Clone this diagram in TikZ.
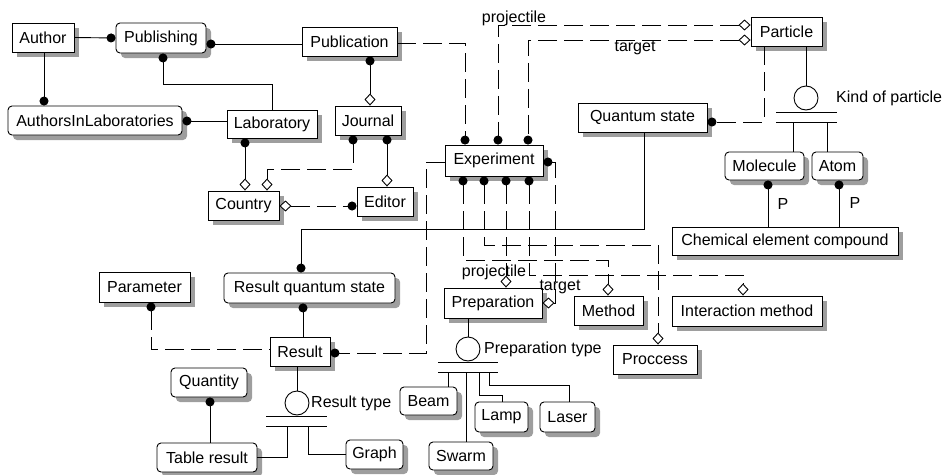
\documentclass[tikz,border=0pt]{standalone}
\usepackage{fontspec}
\setmainfont{Liberation Sans}
\usetikzlibrary{arrows.meta,shadows}
\tikzset{
  fdot/.tip={Circle[length=9pt]},
  odia/.tip={Diamond[fill=white,length=12pt,width=11pt]},
  ent/.style={draw, fill=white, line width=0.9pt, inner sep=0pt,
    font=\fontsize{16}{18}\selectfont,
    general shadow={fill=black!38, shadow xshift=5pt, shadow yshift=-5pt}},
  dep/.style={ent, rounded corners=4pt},
  lbl/.style={font=\fontsize{16}{18}\selectfont, inner sep=0pt},
  ln/.style={line width=0.9pt},
  dsh/.style={line width=0.9pt, dash pattern=on 19pt off 7pt},
  subc/.style={circle, draw, line width=0.9pt, minimum size=24pt, inner sep=0pt},
}
\begin{document}
\begin{tikzpicture}[x=1pt,y=-1pt]
\useasboundingbox (0,0) rectangle (947,474);
% entities
\node[ent, minimum width=62, minimum height=29] (Author) at (43,37.5) {Author};
\node[dep, minimum width=90, minimum height=30] (Publishing) at (161,38) {Publishing};
\node[ent, minimum width=95, minimum height=29] (Publication) at (349.5,41.5) {Publication};
\node[dep, minimum width=174, minimum height=29] (AIL) at (95,120.5) {AuthorsInLaboratories};
\node[ent, minimum width=90, minimum height=28] (Lab) at (272,124) {Laboratory};
\node[ent, minimum width=66, minimum height=29] (Journal) at (368,120.5) {Journal};
\node[ent, minimum width=98, minimum height=31] (Exp) at (494,160.5) {Experiment};
\node[ent, minimum width=129, minimum height=29] (QS) at (642.5,117.5) {Quantum state};
\node[ent, minimum width=71, minimum height=29] (Particle) at (786.5,31.5) {Particle};
\node[dep, minimum width=79, minimum height=28] (Molecule) at (764.5,166) {Molecule};
\node[dep, minimum width=51, minimum height=28] (Atom) at (837.5,166) {Atom};
\node[ent, minimum width=226, minimum height=28] (CEC) at (785,241) {Chemical element compound};
\node[ent, minimum width=71, minimum height=29] (Country) at (243.5,205.5) {Country};
\node[ent, minimum width=56, minimum height=29] (Editor) at (385,201.5) {Editor};
\node[ent, minimum width=91, minimum height=30] (Parameter) at (144.5,287) {Parameter};
\node[dep, minimum width=171, minimum height=30] (RQS) at (309.5,288) {Result quantum state};
\node[ent, minimum width=60, minimum height=29] (Result) at (300,351.5) {Result};
\node[ent, minimum width=98, minimum height=30] (Prep) at (493,303) {Preparation};
\node[ent, minimum width=69, minimum height=29] (Method) at (608.5,310.5) {Method};
\node[ent, minimum width=150, minimum height=30] (IM) at (747,311) {Interaction method};
\node[ent, minimum width=84, minimum height=29] (Proc) at (655,359.5) {Proccess};
\node[dep, minimum width=57, minimum height=28] (Beam) at (428.5,401) {Beam};
\node[dep, minimum width=53, minimum height=30] (Lamp) at (501.5,417) {Lamp};
\node[dep, minimum width=55, minimum height=30] (Laser) at (567.5,417) {Laser};
\node[dep, minimum width=64, minimum height=28] (Swarm) at (461,456) {Swarm};
\node[dep, minimum width=76, minimum height=29] (Quantity) at (209,382.5) {Quantity};
\node[dep, minimum width=100, minimum height=29] (TR) at (207,457.5) {Table result};
\node[dep, minimum width=57, minimum height=29] (Graph) at (374.5,454.5) {Graph};
% subtype circles
\node[subc] (kp) at (806,98) {};
\node[lbl, anchor=west] (kpl) at (836,98) {Kind of particle};
\node[subc] (pt) at (468,349) {};
\node[lbl, anchor=west] (ptl) at (484,349) {Preparation type};
\node[subc] (rt) at (297,403) {};
\node[lbl, anchor=west] (rtl) at (311,403) {Result type};
% labels
\node[lbl] (lproj1) at (514,18) {projectile};
\node[lbl] (ltarg1) at (635,48) {target};
\node[lbl] (lproj2) at (494,272) {projectile};
\node[lbl] (ltarg2) at (560,287) {target};
\node[lbl] (lp1) at (783,204) {P};
\node[lbl] (lp2) at (855,203) {P};
% solid connectors
\draw[ln,-fdot] (Author.east) -- (Publishing.west);
\draw[ln,-fdot] (44,0 |- Author.south) -- (44,0 |- AIL.north);
\draw[ln,fdot-] (Publishing.east |- 0,44) -- (Publication.west |- 0,44);
\draw[ln,fdot-] (163,0 |- Publishing.south) -- (163,84) -| (Lab.north);
\draw[ln,fdot-] (AIL.east |- 0,121) -- (Lab.west |- 0,121);
\draw[ln,fdot-odia] (370,0 |- Publication.south) -- (370,0 |- Journal.north);
\draw[ln,fdot-odia] (245,0 |- Lab.south) -- (245,0 |- Country.north);
\draw[ln,fdot-odia] (387,0 |- Journal.south) -- (387,0 |- Editor.north);
\draw[ln,-fdot] (644,0 |- QS.south) |- (301,229) -- (301,0 |- RQS.north);
\draw[ln,fdot-] (303,0 |- RQS.south) -- (303,0 |- Result.north);
\draw[ln,fdot-] (768,0 |- Molecule.south) -- (768,0 |- CEC.north);
\draw[ln,fdot-] (839,0 |- Atom.south) -- (839,0 |- CEC.north);
\draw[ln,fdot-] (210,0 |- Quantity.south) -- (210,0 |- TR.north);
% kind of particle
\draw[ln] (kp.north |- Particle.south) -- (kp.north);
\draw[ln] (776,112) -- (837,112);
\draw[ln] (776,122) -- (837,122);
\draw[ln] (793,122) -- (793,0 |- Molecule.north);
\draw[ln] (827,122) -- (827,0 |- Atom.north);
% preparation type
\draw[ln] (pt.north |- Prep.south) -- (pt.north);
\draw[ln] (438,362) -- (498,362);
\draw[ln] (438,372) -- (498,372);
\draw[ln] (448,372) -- (448,0 |- Beam.north);
\draw[ln] (466,372) -- (466,0 |- Swarm.north);
\draw[ln] (479,372) |- (502,395) -- (502,0 |- Lamp.north);
\draw[ln] (489,372) |- (569,385) -- (569,0 |- Laser.north);
% result type
\draw[ln] (rt.north |- Result.south) -- (rt.north);
\draw[ln] (266,416) -- (327,416);
\draw[ln] (266,426) -- (327,426);
\draw[ln] (287,426) |- (TR.east);
\draw[ln] (308,426) |- (Graph.west);
% dashed connectors
\draw[dsh,-fdot] (Publication.east |- 0,43) -| (465,0 |- Exp.north);
\draw[dsh,fdot-odia] (353,0 |- Journal.south) |- (267,169) -- (267,0 |- Country.north);
\draw[dsh,odia-fdot] (Country.east |- 0,206) -- (Editor.west |- 0,206);
\draw[dsh,odia-fdot] (Particle.west |- 0,25) -| (498,0 |- Exp.north);
\draw[dsh,odia-fdot] (Particle.west |- 0,40) -| (528,0 |- Exp.north);
\draw[dsh,-fdot] (764,0 |- Particle.south) |- (QS.east |- 0,122);
\draw[dsh,fdot-] (151,0 |- Parameter.south) |- (Result.west |- 0,349);
\draw[dsh,-fdot] (Exp.west |- 0,162) -| (426,353) -- (Result.east |- 0,353);
\draw[dsh,fdot-odia] (463,0 |- Exp.south) |- (608,260) -- (608,0 |- Method.north);
\draw[dsh,fdot-odia] (484,0 |- Exp.south) |- (658,245) -- (658,0 |- Proc.north);
\draw[dsh,fdot-odia] (506,0 |- Exp.south) -- (506,0 |- Prep.north);
\draw[dsh,fdot-odia] (529,0 |- Exp.south) |- (743,275) -- (743,0 |- IM.north);
\draw[dsh,fdot-odia] (Exp.east |- 0,162) -| (555,303) -- (Prep.east |- 0,303);
\end{tikzpicture}
\end{document}
